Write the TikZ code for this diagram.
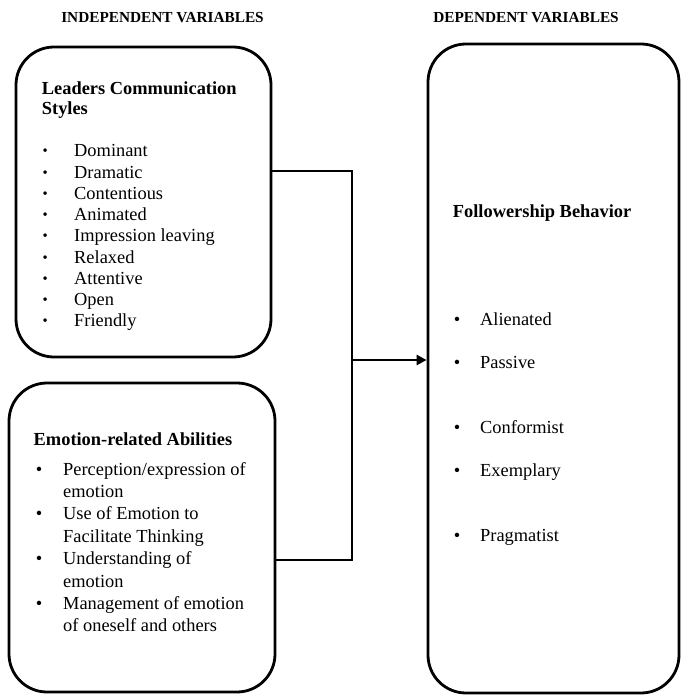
\documentclass[tikz,border=0pt]{standalone}
\usepackage{fontspec}
\setmainfont{Liberation Serif}
\usetikzlibrary{arrows.meta}
\pgfdeclarelayer{edgelayer}
\pgfdeclarelayer{nodelayer}
\pgfsetlayers{edgelayer,nodelayer,main}
\tikzstyle{box}=[draw=black,line width=2.8pt,rounded corners=38pt,inner sep=0pt]
\tikzstyle{head}=[anchor=base,inner sep=0pt,font=\fontsize{15.3}{18}\selectfont\bfseries]
\tikzstyle{title}=[anchor=base west,inner sep=0pt,font=\fontsize{18.4}{21}\selectfont\bfseries]
\tikzstyle{item}=[anchor=base west,inner sep=0pt,font=\fontsize{18.4}{21}\selectfont]
\tikzstyle{link}=[line width=2.6pt]
\newcommand{\bul}[1]{\llap{\textbullet\hskip#1}}
\newcommand{\sbul}[1]{\llap{\raisebox{1pt}{\scalebox{0.8}{\textbullet}}\hskip#1}}

\begin{document}
\begin{tikzpicture}[x=1pt,y=-1pt]
        \useasboundingbox (0,0) rectangle (680,695);
        \begin{pgfonlayer}{nodelayer}
            \node [style = head] (iv) at (162.5, 22.3) {INDEPENDENT VARIABLES};
            \node [style = head] (dv) at (526, 22.3) {DEPENDENT VARIABLES};

            \node [style = box, minimum width=255pt, minimum height=310pt] (lcs) at (143.5, 202) {};
            \node [style = box, minimum width=266pt, minimum height=309pt] (era) at (142, 537.5) {};
            \node [style = box, minimum width=251pt, minimum height=649pt] (fb) at (553.5, 368.5) {};

            \node [style = title] (lcs1) at (41.7, 94.3) {Leaders Communication};
            \node [style = title] (lcs2) at (41.7, 115) {Styles};
            \node [style = item] (dom) at (74, 157) {\sbul{26.5pt}Dominant};
            \node [style = item] (dra) at (74, 178.2) {\sbul{26.5pt}Dramatic};
            \node [style = item] (con) at (74, 199.4) {\sbul{26.5pt}Contentious};
            \node [style = item] (ani) at (74, 220.6) {\sbul{26.5pt}Animated};
            \node [style = item] (imp) at (74, 241.8) {\sbul{26.5pt}Impression leaving};
            \node [style = item] (rel) at (74, 263) {\sbul{26.5pt}Relaxed};
            \node [style = item] (att) at (74, 284.2) {\sbul{26.5pt}Attentive};
            \node [style = item] (ope) at (74, 305.4) {\sbul{26.5pt}Open};
            \node [style = item] (fri) at (74, 326.6) {\sbul{26.5pt}Friendly};

            \node [style = title] (era1) at (33.5, 445.7) {Emotion-related Abilities};
            \node [style = item] (per1) at (63, 475) {\bul{20.8pt}Perception/expression of};
            \node [style = item] (per2) at (63, 497.4) {emotion};
            \node [style = item] (use1) at (63, 519.8) {\bul{20.8pt}Use of Emotion to};
            \node [style = item] (use2) at (63, 542.2) {Facilitate Thinking};
            \node [style = item] (und1) at (63, 564.6) {\bul{20.8pt}Understanding of};
            \node [style = item] (und2) at (63, 587) {emotion};
            \node [style = item] (man1) at (63, 609.4) {\bul{20.8pt}Management of emotion};
            \node [style = item] (man2) at (63, 631.8) {of oneself and others};

            \node [style = title] (fb1) at (452.7, 217.3) {Followership Behavior};
            \node [style = item] (ali) at (480, 325) {\bul{20pt}Alienated};
            \node [style = item] (pas) at (480, 368.3) {\bul{20pt}Passive};
            \node [style = item] (cnf) at (480, 433.3) {\bul{20pt}Conformist};
            \node [style = item] (exe) at (480, 476.7) {\bul{20pt}Exemplary};
            \node [style = item] (pra) at (480, 541.7) {\bul{20pt}Pragmatist};
        \end{pgfonlayer}

        \begin{pgfonlayer}{edgelayer}
            \coordinate (j1) at (352, 171);
            \coordinate (j2) at (352, 560);
            \coordinate (jm) at (352, 360);
            \draw [style = link] (lcs.east |- j1) -- (j1) -- (j2) -- (era.east |- j2);
            \draw [style = link, -{Triangle[length=10pt,width=10pt]}] (jm) -- (fb.west |- jm);
        \end{pgfonlayer}
    \end{tikzpicture}
\end{document}
